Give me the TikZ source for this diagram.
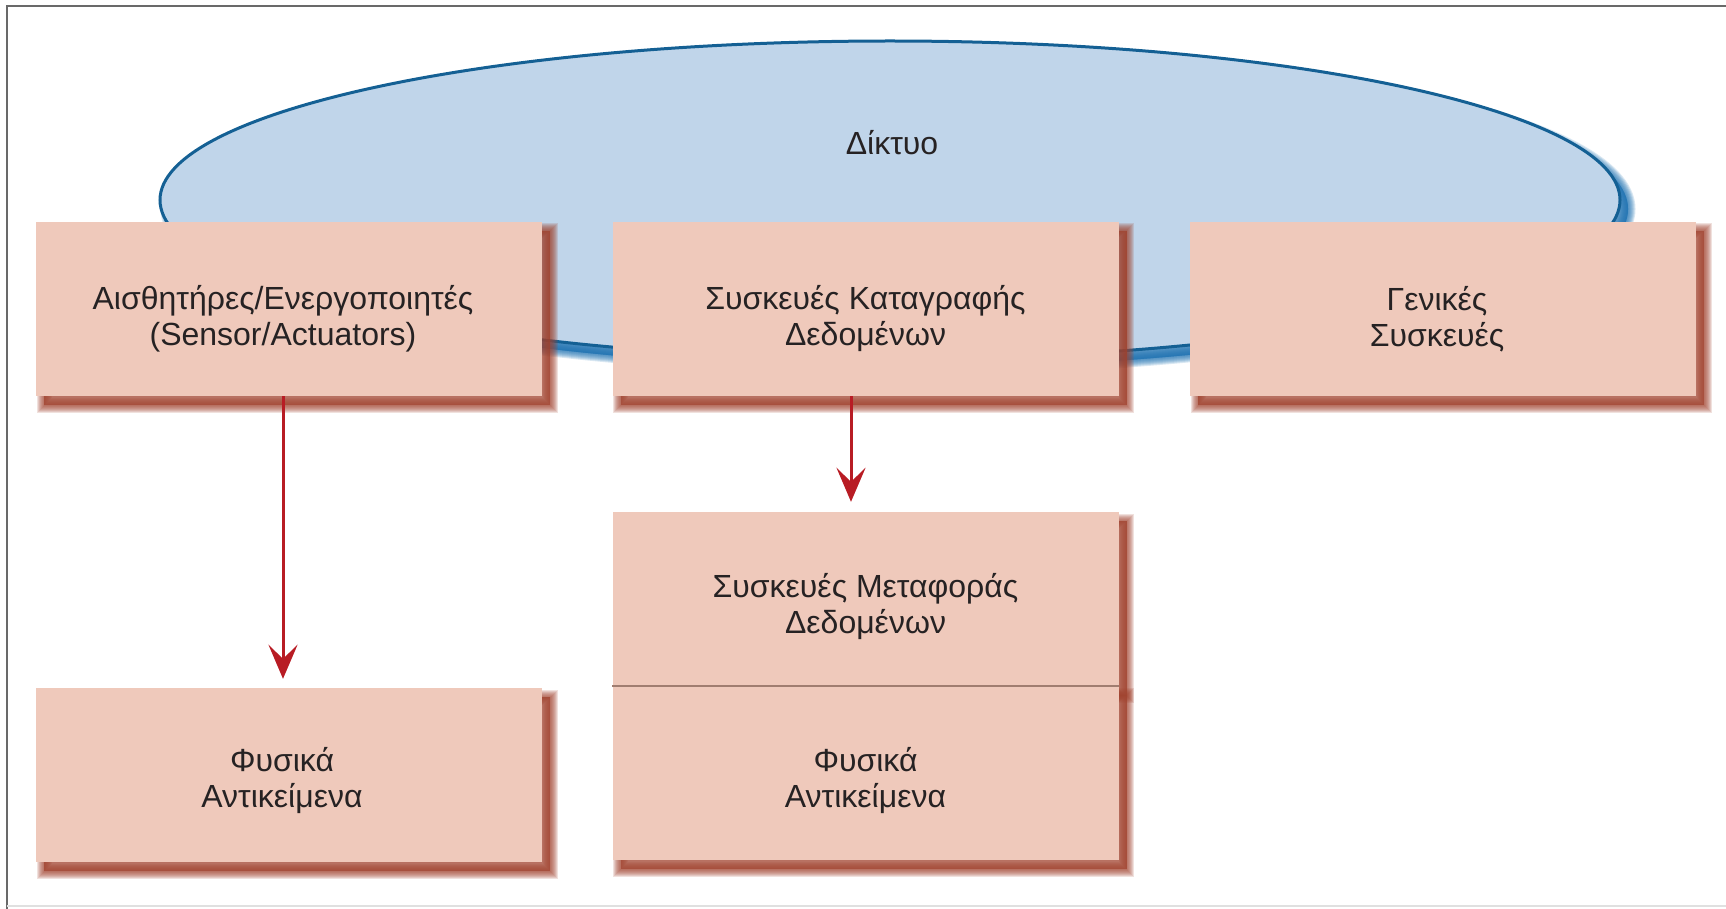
\documentclass[tikz,border=0pt]{standalone}
\usepackage{fontspec}
\setmainfont{Liberation Sans}
\usetikzlibrary{shapes.geometric,shadows,arrows.meta}
\definecolor{boxfill}{RGB}{239,201,187}
\definecolor{boxshade}{RGB}{160,66,46}
\definecolor{netfill}{RGB}{192,213,234}
\definecolor{netline}{RGB}{20,96,148}
\definecolor{netshade}{RGB}{25,110,175}
\definecolor{arrowred}{RGB}{184,28,36}
\definecolor{framegray}{RGB}{105,105,105}
\definecolor{ink}{RGB}{38,34,35}
\definecolor{divider}{RGB}{160,125,112}

\begin{document}
\begin{tikzpicture}[x=1pt,y=-1pt,
  shadelayer/.style 2 args={general shadow={fill=#1, draw=#1, line width=#2,
    opacity=0.16, shadow xshift=8pt, shadow yshift=-9pt}},
  softshade/.style={shadelayer={#1}{15pt}, shadelayer={#1}{13pt},
    shadelayer={#1}{11pt}, shadelayer={#1}{9pt}, shadelayer={#1}{7pt},
    shadelayer={#1}{5pt}, shadelayer={#1}{3pt}, shadelayer={#1}{1pt}},
  box/.style={rectangle, fill=boxfill, inner sep=0pt, minimum width=506pt,
    minimum height=174pt, softshade=boxshade},
  label/.style={text=ink, align=center, font=\fontsize{32}{36}\selectfont},
  arr/.style={draw=arrowred, line width=3pt,
    -{Stealth[length=34pt, width=29pt, inset=14pt]}}]
\useasboundingbox (0,0) rectangle (1726,909);

% outer frame
\draw[framegray, line width=2.5pt] (7,909) -- (7,6) -- (1726,6);
\draw[black!12, line width=1.5pt] (7,906) -- (1726,906);

% network ellipse
\node[ellipse, minimum width=1460pt, minimum height=318pt, inner sep=0pt,
  fill=netfill, draw=netline, line width=3pt, softshade=netshade] (net) at (890,200) {};
\node[label] (nettext) at (892,143) {Δίκτυο};

% device boxes
\node[box] (s1) at (289,309) {};
\node[box] (dl) at (865.5,309) {};
\node[box] (gd) at (1443,309) {};
\node[box] (po1) at (289,775) {};
\node[box] (dt) at (865.5,599) {};
\node[box] (po2) at (865.5,773) {};
\draw[divider, line width=1.5pt] (dt.south west) -- (dt.south east);

% box captions
\node[label] (s1t) at ([xshift=-6pt,yshift=-10pt]s1.center) {Αισθητήρες/Ενεργοποιητές\\(Sensor/Actuators)};
\node[label] (dlt) at ([yshift=-10pt]dl.center) {Συσκευές Καταγραφής\\Δεδομένων};
\node[label] (gdt) at ([xshift=-6pt,yshift=-10pt]gd.center) {Γενικές\\Συσκευές};
\node[label] (po1t) at ([xshift=-7pt,yshift=-6pt]po1.center) {Φυσικά\\Αντικείμενα};
\node[label] (dtt) at ([yshift=-8pt]dt.center) {Συσκευές Μεταφοράς\\Δεδομένων};
\node[label] (po2t) at ([yshift=-8pt]po2.center) {Φυσικά\\Αντικείμενα};

% links
\draw[arr, shorten >=9pt] ([xshift=-6pt]s1.south) -- ([xshift=-6pt]po1.north);
\draw[arr, shorten >=10pt] ([xshift=-14.5pt]dl.south) -- ([xshift=-14.5pt]dt.north);
\end{tikzpicture}
\end{document}
